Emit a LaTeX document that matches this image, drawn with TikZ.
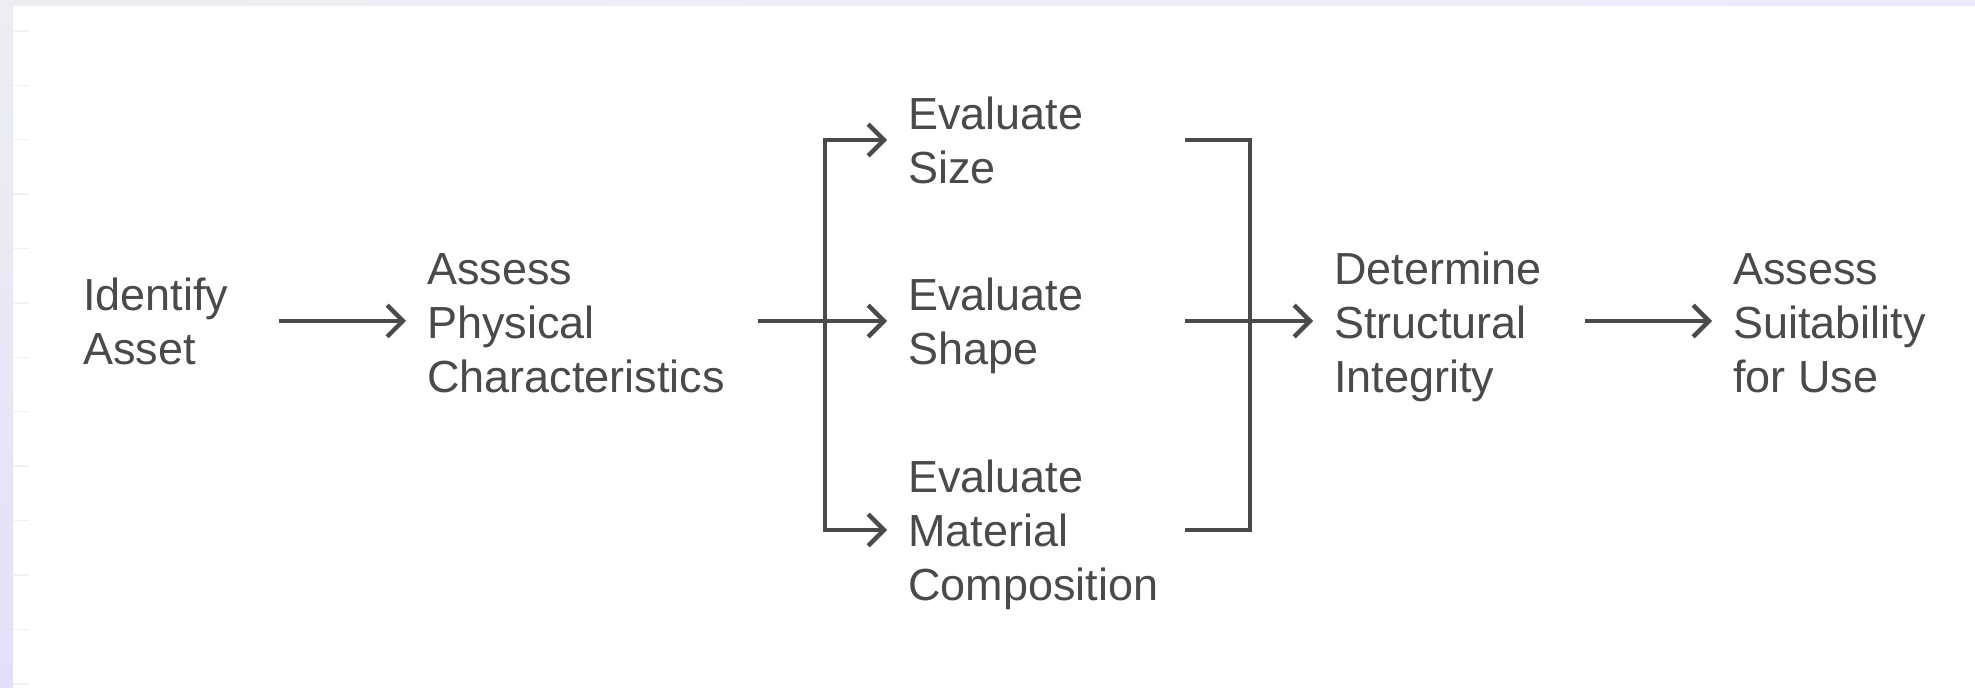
\documentclass[tikz,border=0pt]{standalone}
\usepackage{fontspec}
\setmainfont{Liberation Sans}
\usetikzlibrary{arrows.meta}
\definecolor{ink}{HTML}{4A4A4A}
\definecolor{framegray}{HTML}{ECEEF2}
\definecolor{framelilac}{HTML}{E3E1F8}
\definecolor{tickgray}{HTML}{F0F1F5}

\tikzset{
  txt/.style={anchor=west, align=left, inner xsep=12pt, inner ysep=0pt,
    text=ink, font=\fontsize{25.6pt}{30.7pt}\selectfont},
  joinline/.style={draw=ink, line width=2.5pt},
  flow/.style={joinline, -{Straight Barb[length=9pt,width=18pt]}},
}

\begin{document}
\begin{tikzpicture}[x=0.02cm, y=-0.02cm]
    \useasboundingbox (0,0) rectangle (1975,688);
    % Frame
    \fill[white] (0,0) rectangle (1975,688);
    \shade[left color=framegray, right color=framelilac!70!white] (0,0) rectangle (1975,6);
    \shade[top color=framegray, bottom color=framelilac] (0,0) rectangle (13,688);
    \foreach \k in {0,...,12} {
      \draw[tickgray, line width=0.8pt] (13,31+54.4*\k) -- (29,31+54.4*\k);
    }
    % Steps
    \node[txt] (ident) at (62,327) {Identify\strut\\Asset\strut};
    \node[txt] (phys) at (406,328) {Assess\strut\\Physical\strut\\Characteristics\strut};
    \node[txt] (size) at (887,146) {Evaluate\strut\\Size\strut};
    \node[txt] (shape) at (887,327) {Evaluate\strut\\Shape\strut};
    \node[txt] (mat) at (887,536) {Evaluate\strut\\Material\strut\\Composition\strut};
    \node[txt] (integ) at (1313,328) {Determine\strut\\Structural\strut\\Integrity\strut};
    \node[txt] (suit) at (1712,328) {Assess\strut\\Suitability\strut\\for Use\strut};
    % Connector ends
    \coordinate (a1) at (279,321);
    \coordinate (a2) at (758,321);
    \coordinate (fork) at (825,321);
    \coordinate (b1) at (1185,140);
    \coordinate (b2) at (1185,321);
    \coordinate (b3) at (1185,530);
    \coordinate (merge) at (1250,321);
    \coordinate (a4) at (1585,321);
    % Arrows
    \draw[flow] (a1) -- (a1 -| phys.west);
    \draw[flow] (a2) -- (a2 -| shape.west);
    \draw[flow] (fork) |- (b1 -| size.west);
    \draw[flow] (fork) |- (b3 -| mat.west);
    \draw[joinline] (b1) -| (merge);
    \draw[joinline] (b3) -| (merge);
    \draw[flow] (b2) -- (b2 -| integ.west);
    \draw[flow] (a4) -- (a4 -| suit.west);
\end{tikzpicture}
\end{document}
